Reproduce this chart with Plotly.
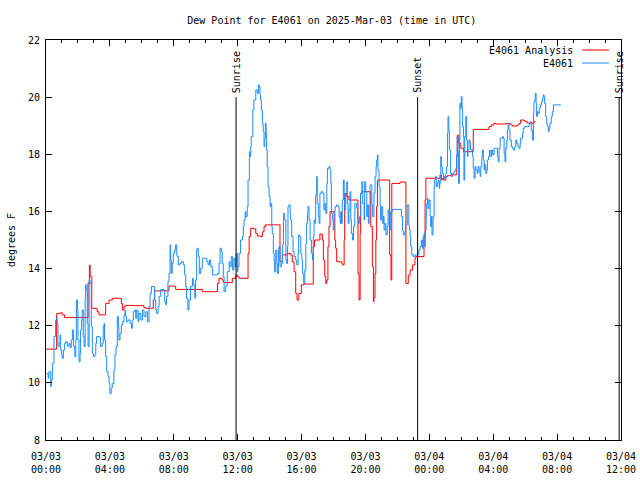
import pandas as pd
import plotly.graph_objects as go

# ---------------- data ----------------
start_time = "2025-03-03 00:00"
end_time = "2025-03-04 12:00"

# E4061 observations: minutes after 2025-03-03 00:00 UTC, dew point (F)
obs_minutes = [3, 8, 11, 18, 20, 24, 30, 36, 40, 42, 45, 49, 53, 55, 59, 61, 65, 70, 74, 80, 86, 90, 95, 99, 103, 108, 112, 114, 118, 120, 124, 128, 130, 134, 136, 140, 143, 147, 149, 153, 155, 158, 162, 165, 170, 174, 178, 183, 187, 190, 199, 205, 211, 215, 218, 220, 224, 228, 233, 237, 240, 245, 249, 255, 259, 263, 268, 272, 274, 278, 283, 288, 293, 297, 299, 303, 308, 316, 321, 324, 328, 333, 337, 341, 346, 349, 356, 362, 368, 375, 381, 387, 391, 396, 406, 408, 412, 416, 421, 425, 431, 441, 446, 450, 453, 458, 462, 466, 468, 471, 474, 478, 483, 487, 491, 493, 497, 503, 508, 516, 521, 525, 528, 533, 537, 543, 550, 553, 559, 562, 566, 568, 572, 576, 581, 587, 596, 604, 609, 614, 619, 625, 631, 638, 644, 650, 654, 659, 662, 666, 669, 675, 681, 688, 691, 696, 701, 706, 710, 714, 719, 721, 725, 731, 738, 741, 744, 748, 751, 756, 759, 764, 766, 769, 771, 777, 781, 788, 794, 798, 801, 804, 806, 809, 813, 816, 819, 822, 824, 827, 829, 831, 834, 838, 842, 844, 848, 850, 854, 857, 859, 863, 867, 869, 873, 875, 879, 884, 888, 892, 897, 901, 904, 907, 909, 913, 917, 919, 923, 928, 932, 938, 942, 947, 949, 952, 957, 961, 964, 968, 972, 976, 979, 982, 984, 988, 992, 997, 1001, 1004, 1007, 1011, 1013, 1017, 1019, 1023, 1026, 1029, 1034, 1040, 1044, 1048, 1051, 1055, 1057, 1063, 1067, 1070, 1072, 1076, 1079, 1082, 1086, 1092, 1097, 1101, 1105, 1107, 1110, 1113, 1117, 1120, 1122, 1126, 1130, 1132, 1135, 1138, 1142, 1145, 1147, 1151, 1155, 1160, 1164, 1167, 1170, 1173, 1177, 1182, 1186, 1190, 1195, 1197, 1201, 1205, 1207, 1211, 1214, 1217, 1220, 1224, 1227, 1232, 1236, 1240, 1242, 1245, 1247, 1251, 1255, 1257, 1261, 1265, 1267, 1270, 1274, 1277, 1282, 1285, 1289, 1292, 1295, 1301, 1330, 1335, 1339, 1342, 1348, 1351, 1357, 1363, 1365, 1368, 1370, 1374, 1380, 1386, 1393, 1398, 1401, 1405, 1410, 1414, 1417, 1420, 1423, 1425, 1428, 1430, 1433, 1435, 1439, 1443, 1445, 1448, 1450, 1454, 1458, 1460, 1463, 1466, 1470, 1474, 1477, 1479, 1483, 1485, 1489, 1493, 1495, 1498, 1502, 1505, 1508, 1510, 1513, 1515, 1520, 1524, 1528, 1533, 1537, 1540, 1543, 1545, 1548, 1550, 1553, 1555, 1558, 1560, 1563, 1565, 1568, 1570, 1573, 1577, 1580, 1583, 1585, 1589, 1593, 1595, 1602, 1605, 1608, 1612, 1615, 1620, 1623, 1627, 1631, 1633, 1637, 1639, 1643, 1646, 1648, 1652, 1656, 1658, 1662, 1666, 1668, 1673, 1677, 1681, 1683, 1690, 1696, 1699, 1702, 1706, 1714, 1718, 1721, 1724, 1727, 1731, 1733, 1736, 1739, 1743, 1748, 1752, 1756, 1761, 1765, 1768, 1773, 1777, 1781, 1783, 1790, 1793, 1798, 1808, 1815, 1821, 1823, 1827, 1831, 1833, 1836, 1838, 1841, 1843, 1846, 1849, 1853, 1857, 1861, 1865, 1868, 1871, 1873, 1877, 1881, 1883, 1887, 1890, 1893, 1898, 1902, 1906, 1909, 1934]
obs_values = [10.33, 10.16, 10.39, 9.87, 10.1, 10.68, 11.62, 12.2, 12.26, 12.08, 11.27, 11.38, 11.68, 11.15, 10.98, 10.86, 11.15, 11.38, 11.44, 11.29, 11.38, 11.24, 11.5, 11.85, 11.27, 10.92, 11.5, 12.9, 12.55, 11.5, 10.74, 11.03, 11.85, 12.2, 12.55, 11.62, 11.27, 12.96, 13.43, 13.25, 12.08, 11.27, 13.6, 13.48, 11.97, 11.03, 10.92, 10.98, 11.38, 11.62, 11.6, 11.27, 11.38, 11.97, 12.08, 11.5, 10.92, 10.39, 10.22, 9.98, 9.63, 9.81, 9.98, 10.45, 10.98, 11.27, 12.32, 11.97, 11.5, 11.73, 12.03, 12.14, 12.38, 12.55, 12.32, 12.14, 12.2, 12.08, 11.91, 12.2, 12.49, 12.55, 12.26, 12.55, 12.14, 12.43, 12.2, 12.55, 12.32, 12.49, 12.14, 12.67, 13.13, 13.37, 13.37, 12.9, 12.55, 12.43, 12.67, 13.02, 13.27, 13.25, 12.84, 12.73, 13.02, 13.54, 13.83, 14.83, 14.3, 13.83, 14.18, 14.53, 14.65, 14.83, 14.48, 14.42, 14.13, 14.18, 14.24, 14.13, 13.78, 13.37, 12.96, 12.55, 12.9, 13.37, 13.66, 13.43, 12.96, 13.6, 14.65, 14.71, 14.42, 13.83, 14.01, 14.36, 14.36, 14.24, 14.13, 14.3, 14.07, 13.78, 13.78, 13.78, 13.83, 14.18, 14.71, 14.59, 14.18, 13.72, 13.2, 13.4, 13.89, 14.24, 14.07, 14.42, 13.95, 14.36, 14.07, 14.53, 13.89, 14.07, 14.53, 15.0, 15.12, 15.47, 15.7, 15.99, 15.82, 16.17, 17.1, 18.09, 17.92, 18.27, 18.62, 19.55, 19.9, 20.25, 20.13, 20.43, 20.37, 20.08, 19.9, 19.55, 19.08, 18.79, 18.27, 18.56, 19.08, 18.73, 18.15, 17.57, 16.87, 16.52, 16.17, 16.28, 15.47, 15.23, 14.53, 14.24, 13.89, 14.65, 14.18, 13.83, 14.65, 14.77, 14.07, 14.18, 14.83, 15.93, 15.7, 14.3, 14.18, 14.77, 16.17, 16.23, 15.93, 15.7, 15.12, 14.59, 14.42, 14.3, 14.13, 14.53, 15.18, 15.12, 14.53, 14.3, 13.83, 13.48, 13.95, 14.88, 15.58, 15.93, 16.17, 15.7, 15.0, 14.53, 14.3, 15.12, 15.7, 15.58, 16.58, 17.22, 16.28, 15.82, 15.58, 16.63, 16.69, 16.63, 16.05, 16.28, 15.93, 16.98, 17.51, 17.57, 17.45, 16.98, 15.93, 15.7, 15.35, 15.99, 16.17, 16.23, 16.17, 15.82, 15.58, 15.99, 15.58, 16.4, 17.1, 16.52, 16.05, 16.63, 17.04, 16.28, 15.58, 16.05, 16.69, 15.7, 15.23, 15.0, 15.47, 16.28, 16.28, 16.11, 15.76, 15.58, 15.82, 16.63, 17.04, 16.28, 15.7, 17.04, 16.69, 15.82, 16.23, 15.58, 16.17, 16.93, 16.93, 16.23, 15.82, 16.63, 17.22, 17.57, 17.8, 17.98, 17.45, 16.87, 16.23, 15.7, 16.17, 15.58, 15.82, 15.35, 15.58, 15.18, 15.47, 16.05, 15.58, 15.35, 15.99, 16.07, 16.07, 15.82, 15.35, 15.18, 15.29, 15.53, 16.23, 15.53, 15.35, 15.12, 14.77, 14.48, 14.42, 14.48, 14.48, 14.48, 14.65, 14.77, 15.0, 14.71, 15.12, 15.23, 14.77, 15.35, 15.82, 16.28, 16.46, 16.11, 16.4, 15.82, 15.47, 15.82, 15.18, 15.82, 16.87, 17.1, 17.22, 16.87, 17.0, 17.1, 16.81, 17.0, 17.92, 17.57, 17.33, 17.1, 17.22, 17.16, 17.33, 17.57, 18.73, 19.32, 18.85, 18.15, 17.33, 17.22, 17.33, 17.39, 17.45, 17.51, 17.98, 18.62, 18.09, 16.98, 18.5, 19.78, 19.61, 20.02, 19.61, 18.97, 18.62, 17.1, 18.62, 19.32, 18.5, 17.92, 18.15, 18.5, 18.38, 18.15, 17.92, 17.51, 17.16, 17.57, 17.45, 17.33, 17.57, 17.39, 17.22, 17.57, 17.92, 18.15, 17.8, 17.45, 17.63, 17.33, 17.45, 17.8, 17.92, 18.15, 17.92, 18.15, 17.98, 17.98, 18.21, 18.21, 17.92, 17.74, 18.21, 18.56, 18.62, 18.56, 18.03, 17.74, 18.21, 18.5, 18.85, 19.08, 18.85, 18.5, 18.27, 18.21, 18.15, 18.27, 18.5, 18.38, 18.27, 18.21, 18.38, 18.56, 18.73, 18.91, 18.97, 18.97, 19.08, 19.14, 18.85, 18.5, 19.43, 19.84, 19.9, 20.13, 19.78, 19.32, 19.49, 19.43, 19.61, 19.73, 19.84, 19.96, 20.08, 20.02, 19.78, 19.32, 19.08, 18.97, 18.79, 18.91, 19.08, 19.32, 19.49, 19.73, 19.73, 19.73]

# E4061 Analysis: minutes after 2025-03-03 00:00 UTC, dew point (F)
ana_minutes = [0, 40, 53, 61, 70, 158, 163, 166, 172, 176, 192, 199, 224, 237, 249, 283, 287, 293, 299, 331, 368, 375, 403, 408, 462, 481, 487, 587, 644, 650, 662, 666, 700, 713, 719, 725, 759, 763, 769, 781, 788, 794, 806, 813, 819, 825, 879, 888, 907, 919, 925, 932, 938, 943, 950, 959, 969, 1004, 1009, 1029, 1038, 1042, 1047, 1051, 1055, 1059, 1063, 1067, 1082, 1085, 1088, 1092, 1110, 1113, 1120, 1122, 1130, 1138, 1172, 1176, 1180, 1182, 1188, 1220, 1226, 1230, 1232, 1236, 1239, 1242, 1245, 1291, 1296, 1299, 1330, 1352, 1361, 1368, 1377, 1386, 1389, 1420, 1424, 1427, 1480, 1485, 1489, 1495, 1502, 1508, 1520, 1543, 1545, 1551, 1558, 1568, 1605, 1664, 1673, 1683, 1690, 1727, 1746, 1752, 1771, 1777, 1783, 1796, 1802, 1808, 1815, 1821, 1827, 1833, 1837]
ana_values = [11.18, 12.43, 12.45, 12.38, 12.29, 13.5, 14.12, 13.72, 12.6, 12.61, 12.49, 12.38, 12.78, 12.9, 12.96, 12.78, 12.55, 12.67, 12.71, 12.7, 12.63, 12.61, 12.9, 13.22, 13.39, 13.37, 13.27, 13.19, 13.48, 13.66, 13.6, 13.51, 13.66, 13.78, 13.72, 13.66, 14.53, 15.12, 15.41, 15.39, 15.23, 15.14, 15.12, 15.29, 15.47, 15.53, 14.24, 14.48, 14.53, 14.48, 14.24, 13.89, 13.13, 12.9, 13.13, 13.43, 13.46, 14.77, 15.0, 15.21, 15.0, 14.3, 13.72, 13.48, 13.6, 14.77, 15.47, 15.99, 15.96, 15.0, 14.71, 14.24, 14.2, 14.13, 15.0, 16.63, 16.52, 16.4, 13.83, 12.9, 15.23, 16.63, 16.69, 15.47, 14.07, 12.84, 12.98, 13.83, 15.0, 16.17, 17.1, 14.48, 13.6, 16.98, 17.03, 13.48, 13.77, 13.95, 14.13, 14.36, 14.42, 15.12, 16.4, 17.16, 17.28, 17.1, 17.16, 17.1, 17.22, 17.25, 17.28, 17.92, 18.67, 18.38, 18.21, 18.09, 18.87, 18.97, 19.03, 19.08, 19.06, 19.08, 19.03, 18.99, 19.03, 19.08, 19.2, 19.17, 19.14, 19.1, 19.08, 19.1, 19.08, 19.14, 19.17]

event_times = ["2025-03-03 11:54", "2025-03-03 23:16", "2025-03-04 11:53"]
event_labels = ["Sunrise", "Sunset", "Sunrise"]
event_bottom = 8
event_top = 20

x_tick_times = ["2025-03-03 00:00", "2025-03-03 04:00", "2025-03-03 08:00", "2025-03-03 12:00",
                "2025-03-03 16:00", "2025-03-03 20:00", "2025-03-04 00:00", "2025-03-04 04:00",
                "2025-03-04 08:00", "2025-03-04 12:00"]
x_tick_labels = ["03/03<br>00:00", "03/03<br>04:00", "03/03<br>08:00", "03/03<br>12:00",
                 "03/03<br>16:00", "03/03<br>20:00", "03/04<br>00:00", "03/04<br>04:00",
                 "03/04<br>08:00", "03/04<br>12:00"]
y_ticks = [8, 10, 12, 14, 16, 18, 20, 22]

series_names = ["E4061 Analysis", "E4061"]
series_colors = ["#ff0000", "#1a8cff"]

# ---------------- figure ----------------
base = pd.Timestamp(start_time)
obs_t = [base + pd.Timedelta(minutes=m) for m in obs_minutes]
ana_t = [base + pd.Timedelta(minutes=m) for m in ana_minutes]

FONT = "DejaVu Sans Mono"

fig = go.Figure()
fig.add_trace(go.Scatter(x=ana_t, y=ana_values, mode="lines", name=series_names[0],
                         line=dict(color=series_colors[0], width=1, shape="hv"),
                         showlegend=False))
fig.add_trace(go.Scatter(x=obs_t, y=obs_values, mode="lines", name=series_names[1],
                         line=dict(color=series_colors[1], width=1, shape="hv"),
                         showlegend=False))

for t, lab in zip(event_times, event_labels):
    fig.add_shape(type="line", xref="x", yref="y", x0=t, x1=t, y0=event_bottom, y1=event_top,
                  line=dict(color="black", width=1))
    fig.add_annotation(x=t, y=event_top, xref="x", yref="y", text=lab, showarrow=False,
                       textangle=-90, xanchor="center", yanchor="bottom", yshift=2,
                       font=dict(family=FONT, size=10, color="black"))

# legend drawn gnuplot style: text right-aligned, sample line to the right
leg_rows = [0.975, 0.9425]
for name, col, yy in zip(series_names, series_colors, leg_rows):
    fig.add_annotation(x=0.92, y=yy, xref="paper", yref="paper", text=name, showarrow=False,
                       xanchor="right", yanchor="middle",
                       font=dict(family=FONT, size=10, color="black"))
    fig.add_shape(type="line", xref="paper", yref="paper", x0=0.9322, x1=0.979, y0=yy, y1=yy,
                  line=dict(color=col, width=1))

fig.update_layout(
    width=640, height=480,
    margin=dict(l=46, r=19, t=40, b=40, autoexpand=False),
    paper_bgcolor="white", plot_bgcolor="white",
    font=dict(family=FONT, size=10, color="black"),
    title=dict(text="Dew Point for E4061 on 2025-Mar-03 (time in UTC)",
               x=0.497, xref="paper", xanchor="center",
               y=1 - 20 / 480, yref="container", yanchor="middle",
               font=dict(family=FONT, size=10, color="black")),
    xaxis=dict(range=[start_time, end_time], type="date", automargin=False,
               tickmode="array", tickvals=x_tick_times, ticktext=x_tick_labels,
               ticks="inside", ticklen=6, tickcolor="black", tickwidth=1,
               ticklabelstandoff=7,
               showline=True, linecolor="black", linewidth=1, mirror="allticks",
               showgrid=False, zeroline=False,
               tickfont=dict(family=FONT, size=10, color="black"),
               minor=dict(tick0=start_time, dtick=3600000, ticks="inside", ticklen=3,
                          tickcolor="black", tickwidth=1, showgrid=False)),
    yaxis=dict(range=[8, 22], tickmode="array", tickvals=y_ticks, automargin=False,
               ticks="inside", ticklen=6, tickcolor="black", tickwidth=1,
               ticklabelstandoff=3,
               showline=True, linecolor="black", linewidth=1, mirror="allticks",
               showgrid=False, zeroline=False,
               tickfont=dict(family=FONT, size=10, color="black"),
               title=dict(text="degrees F", standoff=10,
                          font=dict(family=FONT, size=10, color="black"))),
)

fig.write_html("out.html", config={"displayModeBar": False},
               post_script="document.body.style.margin='0';")
